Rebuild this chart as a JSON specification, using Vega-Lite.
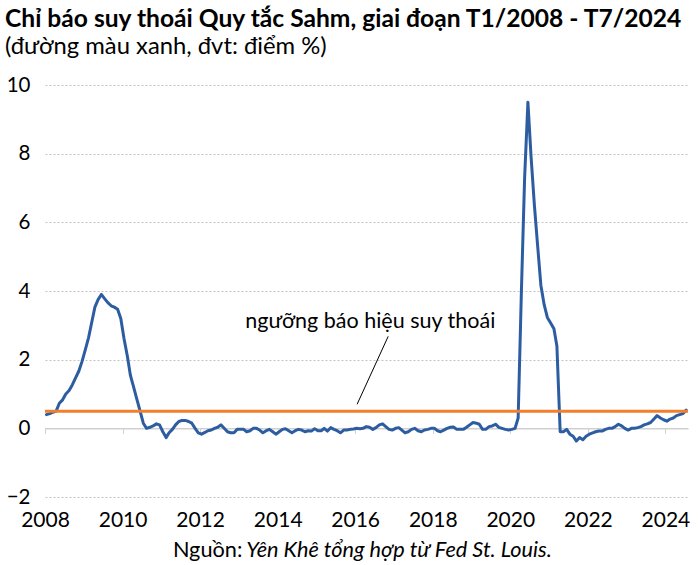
{
  "$schema": "https://vega.github.io/schema/vega-lite/v6.json",
  "width": 643,
  "height": 412,
  "autosize": "none",
  "padding": {"left": 45, "top": 85, "right": 12, "bottom": 68},
  "config": {"font": "Lato", "view": {"stroke": null}},
  "title": {
    "text": "Chỉ báo suy thoái Quy tắc Sahm, giai đoạn T1/2008 - T7/2024",
    "subtitle": "(đường màu xanh, đvt: điểm %)",
    "anchor": "start",
    "frame": "group",
    "dx": -40,
    "font": "Lato",
    "fontSize": 24.6,
    "fontWeight": "bold",
    "color": "#000000",
    "subtitleFont": "Lato",
    "subtitleFontSize": 23.8,
    "subtitleColor": "#000000",
    "subtitlePadding": 3,
    "offset": 15
  },
  "resolve": {"axis": {"x": "independent"}},
  "layer": [
    {
      "data": {"values": [
        {"d":"2008-01-15","v":0.40},{"d":"2008-02-15","v":0.43},{"d":"2008-03-15","v":0.47},{"d":"2008-04-15","v":0.50},{"d":"2008-05-15","v":0.73},{"d":"2008-06-15","v":0.83},{"d":"2008-07-15","v":1.00},{"d":"2008-08-15","v":1.10},{"d":"2008-09-15","v":1.27},{"d":"2008-10-15","v":1.47},{"d":"2008-11-15","v":1.67},{"d":"2008-12-15","v":1.95},
        {"d":"2009-01-15","v":2.29},{"d":"2009-02-15","v":2.65},{"d":"2009-03-15","v":3.07},{"d":"2009-04-15","v":3.53},{"d":"2009-05-15","v":3.75},{"d":"2009-06-15","v":3.90},{"d":"2009-07-15","v":3.78},{"d":"2009-08-15","v":3.66},{"d":"2009-09-15","v":3.57},{"d":"2009-10-15","v":3.53},{"d":"2009-11-15","v":3.47},{"d":"2009-12-15","v":3.20},
        {"d":"2010-01-15","v":2.60},{"d":"2010-02-15","v":2.10},{"d":"2010-03-15","v":1.55},{"d":"2010-04-15","v":1.20},{"d":"2010-05-15","v":0.85},{"d":"2010-06-15","v":0.50},{"d":"2010-07-15","v":0.15},{"d":"2010-08-15","v":0.00},{"d":"2010-09-15","v":0.03},{"d":"2010-10-15","v":0.07},{"d":"2010-11-15","v":0.13},{"d":"2010-12-15","v":0.10},
        {"d":"2011-01-15","v":-0.10},{"d":"2011-02-15","v":-0.27},{"d":"2011-03-15","v":-0.13},{"d":"2011-04-15","v":-0.03},{"d":"2011-05-15","v":0.10},{"d":"2011-06-15","v":0.20},{"d":"2011-07-15","v":0.23},{"d":"2011-08-15","v":0.23},{"d":"2011-09-15","v":0.20},{"d":"2011-10-15","v":0.15},{"d":"2011-11-15","v":0.00},{"d":"2011-12-15","v":-0.13},
        {"d":"2012-01-15","v":-0.17},{"d":"2012-02-15","v":-0.12},{"d":"2012-03-15","v":-0.07},{"d":"2012-04-15","v":-0.05},{"d":"2012-05-15","v":0.00},{"d":"2012-06-15","v":0.03},{"d":"2012-07-15","v":0.10},{"d":"2012-08-15","v":0.00},{"d":"2012-09-15","v":-0.10},{"d":"2012-10-15","v":-0.13},{"d":"2012-11-15","v":-0.13},{"d":"2012-12-15","v":-0.03},
        {"d":"2013-01-15","v":-0.03},{"d":"2013-02-15","v":-0.03},{"d":"2013-03-15","v":-0.10},{"d":"2013-04-15","v":-0.07},{"d":"2013-05-15","v":0.00},{"d":"2013-06-15","v":0.00},{"d":"2013-07-15","v":-0.05},{"d":"2013-08-15","v":-0.13},{"d":"2013-09-15","v":-0.07},{"d":"2013-10-15","v":-0.03},{"d":"2013-11-15","v":-0.10},{"d":"2013-12-15","v":-0.17},
        {"d":"2014-01-15","v":-0.10},{"d":"2014-02-15","v":-0.03},{"d":"2014-03-15","v":-0.01},{"d":"2014-04-15","v":-0.07},{"d":"2014-05-15","v":-0.13},{"d":"2014-06-15","v":-0.07},{"d":"2014-07-15","v":-0.03},{"d":"2014-08-15","v":-0.05},{"d":"2014-09-15","v":-0.10},{"d":"2014-10-15","v":-0.07},{"d":"2014-11-15","v":-0.08},{"d":"2014-12-15","v":-0.01},
        {"d":"2015-01-15","v":-0.07},{"d":"2015-02-15","v":-0.07},{"d":"2015-03-15","v":0.00},{"d":"2015-04-15","v":-0.08},{"d":"2015-05-15","v":0.02},{"d":"2015-06-15","v":-0.03},{"d":"2015-07-15","v":-0.07},{"d":"2015-08-15","v":-0.13},{"d":"2015-09-15","v":-0.05},{"d":"2015-10-15","v":-0.05},{"d":"2015-11-15","v":-0.03},{"d":"2015-12-15","v":-0.02},
        {"d":"2016-01-15","v":0.00},{"d":"2016-02-15","v":-0.01},{"d":"2016-03-15","v":0.00},{"d":"2016-04-15","v":0.05},{"d":"2016-05-15","v":0.03},{"d":"2016-06-15","v":-0.03},{"d":"2016-07-15","v":0.02},{"d":"2016-08-15","v":0.10},{"d":"2016-09-15","v":0.13},{"d":"2016-10-15","v":0.05},{"d":"2016-11-15","v":-0.03},{"d":"2016-12-15","v":-0.05},
        {"d":"2017-01-15","v":0.00},{"d":"2017-02-15","v":0.02},{"d":"2017-03-15","v":-0.05},{"d":"2017-04-15","v":-0.13},{"d":"2017-05-15","v":-0.10},{"d":"2017-06-15","v":-0.03},{"d":"2017-07-15","v":0.00},{"d":"2017-08-15","v":-0.07},{"d":"2017-09-15","v":-0.10},{"d":"2017-10-15","v":-0.05},{"d":"2017-11-15","v":-0.03},{"d":"2017-12-15","v":0.00},
        {"d":"2018-01-15","v":0.00},{"d":"2018-02-15","v":-0.07},{"d":"2018-03-15","v":-0.10},{"d":"2018-04-15","v":-0.05},{"d":"2018-05-15","v":0.00},{"d":"2018-06-15","v":0.03},{"d":"2018-07-15","v":0.04},{"d":"2018-08-15","v":-0.03},{"d":"2018-09-15","v":-0.03},{"d":"2018-10-15","v":-0.03},{"d":"2018-11-15","v":0.03},{"d":"2018-12-15","v":0.10},
        {"d":"2019-01-15","v":0.17},{"d":"2019-02-15","v":0.15},{"d":"2019-03-15","v":0.12},{"d":"2019-04-15","v":-0.03},{"d":"2019-05-15","v":-0.03},{"d":"2019-06-15","v":0.05},{"d":"2019-07-15","v":0.07},{"d":"2019-08-15","v":0.12},{"d":"2019-09-15","v":0.03},{"d":"2019-10-15","v":0.00},{"d":"2019-11-15","v":-0.03},{"d":"2019-12-15","v":-0.05},
        {"d":"2020-01-15","v":-0.03},{"d":"2020-02-15","v":0.00},{"d":"2020-03-15","v":0.30},{"d":"2020-04-15","v":4.03},{"d":"2020-05-15","v":7.30},{"d":"2020-06-15","v":9.50},{"d":"2020-07-15","v":7.90},{"d":"2020-08-15","v":6.50},{"d":"2020-09-15","v":5.30},{"d":"2020-10-15","v":4.17},{"d":"2020-11-15","v":3.60},{"d":"2020-12-15","v":3.23},
        {"d":"2021-01-15","v":3.07},{"d":"2021-02-15","v":2.90},{"d":"2021-03-15","v":2.40},{"d":"2021-04-15","v":-0.10},{"d":"2021-05-15","v":-0.10},{"d":"2021-06-15","v":-0.03},{"d":"2021-07-15","v":-0.17},{"d":"2021-08-15","v":-0.23},{"d":"2021-09-15","v":-0.37},{"d":"2021-10-15","v":-0.27},{"d":"2021-11-15","v":-0.33},{"d":"2021-12-15","v":-0.23},
        {"d":"2022-01-15","v":-0.17},{"d":"2022-02-15","v":-0.13},{"d":"2022-03-15","v":-0.10},{"d":"2022-04-15","v":-0.08},{"d":"2022-05-15","v":-0.08},{"d":"2022-06-15","v":-0.03},{"d":"2022-07-15","v":0.00},{"d":"2022-08-15","v":0.00},{"d":"2022-09-15","v":0.05},{"d":"2022-10-15","v":0.12},{"d":"2022-11-15","v":0.07},{"d":"2022-12-15","v":0.00},
        {"d":"2023-01-15","v":-0.05},{"d":"2023-02-15","v":0.00},{"d":"2023-03-15","v":0.00},{"d":"2023-04-15","v":0.02},{"d":"2023-05-15","v":0.05},{"d":"2023-06-15","v":0.10},{"d":"2023-07-15","v":0.13},{"d":"2023-08-15","v":0.17},{"d":"2023-09-15","v":0.27},{"d":"2023-10-15","v":0.37},{"d":"2023-11-15","v":0.30},{"d":"2023-12-15","v":0.25},
        {"d":"2024-01-15","v":0.21},{"d":"2024-02-15","v":0.27},{"d":"2024-03-15","v":0.30},{"d":"2024-04-15","v":0.37},{"d":"2024-05-15","v":0.40},{"d":"2024-06-15","v":0.43},{"d":"2024-07-15","v":0.53}
      ]},
      "mark": {"type": "line", "color": "#2D5DA1", "strokeWidth": 3, "strokeJoin": "round", "strokeCap": "round"},
      "encoding": {
        "x": {
          "field": "d", "type": "temporal",
          "scale": {"domain": [{"year": 2008, "month": 1, "date": 1}, {"year": 2024, "month": 8, "date": 1}], "nice": false},
          "axis": {
            "orient": "bottom",
            "values": [{"year": 2008}, {"year": 2010}, {"year": 2012}, {"year": 2014}, {"year": 2016}, {"year": 2018}, {"year": 2020}, {"year": 2022}, {"year": 2024}],
            "format": "%Y", "title": null, "grid": false, "ticks": false, "domain": false,
            "labelFontSize": 21, "labelColor": "#000000", "labelPadding": 12, "labelFlush": false, "labelOverlap": false
          }
        },
        "y": {
          "field": "v", "type": "quantitative",
          "scale": {"domain": [-2, 10], "nice": false, "zero": false},
          "axis": {
            "values": [-2, 0, 2, 4, 6, 8, 10], "title": null, "domain": false, "ticks": false,
            "grid": true, "gridDash": [2, 2], "gridColor": "#c4c4c4", "gridWidth": 1,
            "labelFontSize": 20.5, "labelColor": "#000000", "labelPadding": 15
          }
        }
      }
    },
    {
      "data": {"values": [{"label": "leader"}]},
      "mark": {"type": "rule", "color": "#000000", "strokeWidth": 1},
      "encoding": {
        "x": {
          "datum": {"year": 2016, "month": 11, "date": 7}, "type": "temporal",
          "axis": {
            "orient": "bottom", "offset": -68.7,
            "values": [{"year": 2008}, {"year": 2010}, {"year": 2012}, {"year": 2014}, {"year": 2016}, {"year": 2018}, {"year": 2020}, {"year": 2022}, {"year": 2024}],
            "labels": false, "title": null, "grid": false,
            "ticks": true, "tickSize": 5, "tickColor": "#d0d0d0", "tickWidth": 1,
            "domain": true, "domainColor": "#d0d0d0", "domainWidth": 1.5
          }
        },
        "y": {"datum": 2.68, "type": "quantitative"},
        "x2": {"datum": {"year": 2016, "month": 1, "date": 19}},
        "y2": {"datum": 0.70}
      }
    },
    {
      "data": {"values": [{"label": "threshold"}]},
      "mark": {"type": "rule", "color": "#F07F2E", "strokeWidth": 3},
      "encoding": {
        "y": {"datum": 0.5, "type": "quantitative"}
      }
    },
    {
      "data": {"values": [{"label": "ngưỡng báo hiệu suy thoái"}]},
      "mark": {"type": "text", "fontSize": 21.5, "color": "#000000", "align": "center", "baseline": "middle", "font": "Lato"},
      "encoding": {
        "text": {"field": "label"},
        "x": {"datum": {"year": 2016, "month": 5, "date": 22}, "type": "temporal", "axis": null},
        "y": {"datum": 3.1, "type": "quantitative"}
      }
    },
    {
      "data": {"values": [{"label": "Nguồn:"}]},
      "mark": {"type": "text", "fontSize": 21.7, "color": "#000000", "align": "left", "baseline": "middle", "font": "Lato"},
      "encoding": {
        "text": {"field": "label"},
        "x": {"datum": {"year": 2011, "month": 4, "date": 20}, "type": "temporal", "axis": null},
        "y": {"datum": -3.55, "type": "quantitative"}
      }
    },
    {
      "data": {"values": [{"label": "Yên Khê tổng hợp từ Fed St. Louis."}]},
      "mark": {"type": "text", "fontSize": 21.7, "color": "#000000", "align": "left", "baseline": "middle", "font": "Lato", "fontStyle": "italic"},
      "encoding": {
        "text": {"field": "label"},
        "x": {"datum": {"year": 2013, "month": 3, "date": 10}, "type": "temporal", "axis": null},
        "y": {"datum": -3.55, "type": "quantitative"}
      }
    }
  ]
}
